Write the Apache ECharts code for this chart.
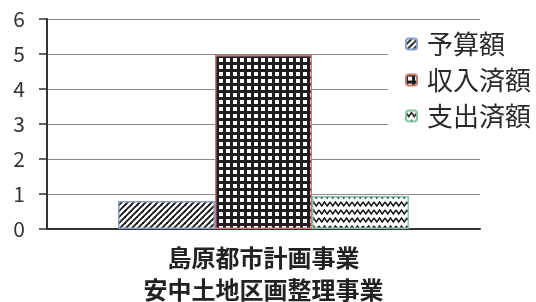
<!DOCTYPE html>
<html>
<head>
<meta charset="utf-8">
<script src="https://cdn.jsdelivr.net/npm/echarts@6/dist/echarts.min.js"></script>
<style>html,body{margin:0;padding:0;background:#fff}#c{width:536px;height:302px}</style>
</head>
<body>
<div id="c"></div>
<script>
const categories = ['島原都市計画事業\n安中土地区画整理事業'];
const seriesNames = ['予算額', '収入済額', '支出済額'];
const budget = [0.8];
const income = [4.97];
const expense = [0.94];
const yTicks = [0, 1, 2, 3, 4, 5, 6];

function makePattern(kind) {
  const c = document.createElement('canvas');
  const ctx = c.getContext('2d');
  if (kind === 'hatch') {
    c.width = 6; c.height = 6;
    ctx.fillStyle = '#fff'; ctx.fillRect(0, 0, 6, 6);
    ctx.strokeStyle = '#111'; ctx.lineWidth = 1.8;
    for (let k = -1; k <= 1; k++) {
      ctx.beginPath();
      ctx.moveTo(k * 6 - 1, 7); ctx.lineTo(k * 6 + 7, -1); ctx.stroke();
    }
  } else if (kind === 'check') {
    c.width = 7; c.height = 7;
    ctx.fillStyle = '#1e1e1e'; ctx.fillRect(0, 0, 7, 7);
    ctx.fillStyle = '#fff'; ctx.fillRect(2, 2, 4, 4);
  } else {
    c.width = 11; c.height = 8;
    ctx.fillStyle = '#fff'; ctx.fillRect(0, 0, 11, 8);
    ctx.strokeStyle = '#111'; ctx.lineWidth = 1.4;
    ctx.beginPath();
    ctx.moveTo(0, 2); ctx.lineTo(2.75, 6); ctx.lineTo(5.5, 2); ctx.lineTo(8.25, 6); ctx.lineTo(11, 2);
    ctx.stroke();
  }
  return { image: c, repeat: 'repeat' };
}

const chart = echarts.init(document.getElementById('c'), null, { renderer: 'canvas' });
const font = "'Noto Sans CJK JP', 'Noto Sans', sans-serif";
chart.setOption({
  animation: false,
  textStyle: { fontFamily: font },
  grid: { left: 47, right: 56, top: 19, bottom: 73, containLabel: false, outerBoundsMode: 'none' },
  legend: {
    data: seriesNames,
    orient: 'vertical',
    left: 388, top: 26,
    padding: [5, 4, 5, 17],
    backgroundColor: '#fff',
    itemWidth: 11, itemHeight: 11,
    itemGap: 10,
    textStyle: { fontSize: 26, lineHeight: 25, color: '#2a2a2a', padding: [0, 0, 0, 5], fontFamily: font }
  },
  xAxis: {
    type: 'category',
    data: categories,
    axisLine: { lineStyle: { color: '#333', width: 2 } },
    axisTick: { show: false },
    axisLabel: { fontSize: 24, lineHeight: 32, color: '#222', margin: 13, fontWeight: 'bold', fontFamily: font }
  },
  yAxis: {
    type: 'value',
    min: yTicks[0], max: yTicks[yTicks.length - 1], interval: 1,
    axisLine: { show: true, lineStyle: { color: '#333', width: 2 } },
    axisTick: { show: true, length: 8, lineStyle: { color: '#333', width: 1.5 } },
    axisLabel: { fontSize: 21, color: '#333', margin: 22, fontFamily: font },
    splitLine: { lineStyle: { color: '#8a8a8a', width: 1.2 } }
  },
  series: [
    { name: seriesNames[0], type: 'bar', data: budget, barWidth: 97, barGap: '0%',
      itemStyle: { color: makePattern('hatch'), borderColor: '#8aa0c8', borderWidth: 1.5 } },
    { name: seriesNames[1], type: 'bar', data: income, barWidth: 97, barGap: '0%',
      itemStyle: { color: makePattern('check'), borderColor: '#c87a78', borderWidth: 1.5 } },
    { name: seriesNames[2], type: 'bar', data: expense, barWidth: 97, barGap: '0%',
      itemStyle: { color: makePattern('wave'), borderColor: '#8cc4a8', borderWidth: 1.5 } }
  ]
});
</script>
</body>
</html>
